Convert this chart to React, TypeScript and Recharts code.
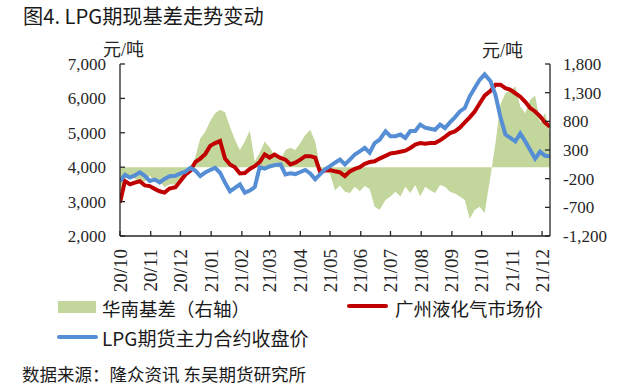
import {
  ComposedChart,
  Area,
  Line,
  XAxis,
  YAxis,
} from 'recharts'

// 横轴：自 2020-10-01 起的天数
const DAYS = [
  0, 5, 10, 15, 20, 25, 30, 35, 40, 45,
  50, 56, 61, 66, 71, 76, 81, 86, 91, 96,
  101, 106, 111, 116, 121, 126, 131, 136, 141, 146,
  151, 156, 162, 167, 172, 177, 182, 187, 192, 197,
  202, 207, 212, 217, 222, 227, 232, 237, 242, 247,
  252, 257, 262, 268, 273, 278, 283, 288, 293, 298,
  303, 308, 313, 318, 323, 328, 333, 338, 343, 348,
  353, 358, 363, 368, 374, 379, 384, 389, 394, 399,
  404, 409, 414, 419, 424, 429, 434,
]

// 广州液化气市场价（左轴）
const SPOT = [
  2970, 3600, 3500, 3550, 3590, 3470, 3450, 3370, 3300, 3260,
  3380, 3420, 3600, 3780, 3900, 4150, 4250, 4380, 4620, 4700,
  4760, 4250, 4080, 4000, 3820, 3830, 3950, 4030, 4150, 4370,
  4280, 4370, 4270, 4220, 4080, 4130, 4220, 4320, 4320, 4280,
  3860, 3900, 3920, 3880, 3850, 3740, 3880, 3950, 4000, 4100,
  4150, 4170, 4250, 4330, 4400, 4420, 4450, 4480, 4560, 4660,
  4700, 4680, 4700, 4700, 4780, 4880, 4990, 5040, 5150, 5300,
  5450, 5620, 5850, 6080, 6220, 6400, 6400, 6300, 6250, 6150,
  6050, 5900, 5720, 5620, 5480, 5300, 5180,
]

// LPG期货主力合约收盘价（左轴）
const FUTURES = [
  3590, 3780, 3700, 3760, 3850, 3750, 3600, 3640, 3560, 3660,
  3740, 3750, 3820, 3870, 3980, 3900, 3740, 3850, 3920, 3980,
  3840, 3550, 3300, 3400, 3500, 3260, 3320, 3420, 4000, 3960,
  4020, 4060, 4080, 3790, 3820, 3800, 3860, 3920, 3820, 3650,
  3800, 3940, 4030, 4130, 4220, 4080, 4220, 4370, 4460, 4560,
  4420, 4700, 4800, 5040, 4900, 4900, 4950, 4850, 5050, 5050,
  5240, 5150, 5120, 5090, 5240, 5140, 5300, 5450, 5620, 5720,
  6060, 6300, 6540, 6700, 6500, 6100, 5450, 4950, 4850, 4750,
  4980, 4750, 4500, 4250, 4450, 4330, 4320,
]

// 华南基差（右轴）
const BASIS = [
  -450, -200, -150, -200, -250, -250, -150, -250, -250, -350,
  -300, -300, -200, -100, -50, 180, 500, 620, 800, 940,
  1000, 960, 700, 480, 300, 450, 640, 100, 250, 450,
  350, 210, 130, 300, 340, 300, 420, 560, 650, 450,
  -20, -70, -120, -400, -320, -430, -450, -340, -420, -330,
  -380, -690, -740, -570, -510, -430, -510, -340, -450, -310,
  -510, -340, -400, -450, -310, -340, -430, -460, -510, -570,
  -900, -740, -690, -800, -150, 420, 1100, 1290, 1330, 1410,
  1060, 940, 1170, 1250, 770, 950, 600,
]

const MONTH_DAYS = [0, 31, 61, 92, 123, 151, 182, 212, 243, 273, 304, 335, 365, 396, 426]
const MONTH_LABELS = [
  '20/10', '20/11', '20/12', '21/01', '21/02', '21/03', '21/04', '21/05',
  '21/06', '21/07', '21/08', '21/09', '21/10', '21/11', '21/12',
]
const LEFT_TICKS = [2000, 3000, 4000, 5000, 6000, 7000]
const RIGHT_TICKS = [-1200, -700, -200, 300, 800, 1300, 1800]

const data = DAYS.map((d, i) => ({
  day: d,
  basis: BASIS[i],
  spot: SPOT[i],
  futures: FUTURES[i],
}))

const GREEN = '#c3d69b'
const RED = '#c00000'
const BLUE = '#558ed5'
const AXIS = '#262626'
const SERIF = '"Liberation Serif", "Noto Sans CJK SC", serif'
const SANS = '"Noto Sans CJK SC", "Noto Sans", sans-serif'

const fmt = (v: number) => String(v).replace(/\B(?=(\d{3})+(?!\d))/g, ',')

function MonthTick({ x, y, payload }: any) {
  const idx = MONTH_DAYS.indexOf(payload.value)
  return (
    <text
      transform={`translate(${x},${y}) rotate(-90)`}
      textAnchor="end"
      dominantBaseline="central"
      fontFamily={SERIF}
      fontSize={19}
      fill={AXIS}
    >
      {MONTH_LABELS[idx]}
    </text>
  )
}

const tickStyle = { fontFamily: SERIF, fontSize: 17, fill: AXIS }

export default function App() {
  return (
    <div style={{ position: 'absolute', left: 0, top: 0, width: 640, height: 389, background: '#fff', color: '#1a1a1a' }}>
      <div style={{ position: 'absolute', left: 23, top: 3, fontFamily: SANS, fontSize: 20.2, lineHeight: '26px', whiteSpace: 'nowrap' }}>
        图4. LPG期现基差走势变动
      </div>
      <div style={{ position: 'absolute', left: 103, top: 38, fontFamily: SERIF, fontSize: 18, lineHeight: '24px', color: AXIS }}>
        元/吨
      </div>
      <div style={{ position: 'absolute', left: 482, top: 39, fontFamily: SERIF, fontSize: 18, lineHeight: '24px', color: AXIS }}>
        元/吨
      </div>

      <ComposedChart
        width={640}
        height={389}
        data={data}
        margin={{ top: 64, right: 0, bottom: 93, left: 0 }}
      >
        <XAxis
          dataKey="day"
          type="number"
          domain={[0, 434]}
          ticks={MONTH_DAYS}
          interval={0}
          height={60}
          tickSize={-5}
          tickMargin={18}
          tick={<MonthTick />}
          axisLine={{ stroke: AXIS, strokeWidth: 1.3 }}
          tickLine={{ stroke: AXIS, strokeWidth: 1.3 }}
          allowDataOverflow
        />
        <YAxis
          yAxisId="left"
          domain={[2000, 7000]}
          ticks={LEFT_TICKS}
          width={120}
          tickSize={-5}
          tickMargin={19}
          tickFormatter={fmt}
          tick={tickStyle}
          axisLine={{ stroke: AXIS, strokeWidth: 1.3 }}
          tickLine={{ stroke: AXIS, strokeWidth: 1.3 }}
        />
        <YAxis
          yAxisId="right"
          orientation="right"
          domain={[-1200, 1800]}
          ticks={RIGHT_TICKS}
          width={90}
          tickSize={-5}
          tickMargin={18}
          tickFormatter={fmt}
          tick={tickStyle}
          axisLine={{ stroke: AXIS, strokeWidth: 1.3 }}
          tickLine={{ stroke: AXIS, strokeWidth: 1.3 }}
        />
        <Area
          yAxisId="right"
          dataKey="basis"
          type="linear"
          baseValue={0}
          fill={GREEN}
          fillOpacity={1}
          stroke="none"
          isAnimationActive={false}
        />
        <Line
          yAxisId="left"
          dataKey="spot"
          type="linear"
          stroke={RED}
          strokeWidth={4}
          dot={false}
          isAnimationActive={false}
        />
        <Line
          yAxisId="left"
          dataKey="futures"
          type="linear"
          stroke={BLUE}
          strokeWidth={4}
          dot={false}
          isAnimationActive={false}
        />
      </ComposedChart>

      {/* 图例 */}
      <div style={{ position: 'absolute', left: 58, top: 301, width: 38, height: 12, background: GREEN }} />
      <div style={{ position: 'absolute', left: 102, top: 295, fontFamily: SANS, fontSize: 18.5, lineHeight: '26px', whiteSpace: 'nowrap' }}>
        华南基差（右轴）
      </div>
      <div style={{ position: 'absolute', left: 347, top: 304, width: 41, height: 4, borderRadius: 2, background: RED }} />
      <div style={{ position: 'absolute', left: 395, top: 295, fontFamily: SANS, fontSize: 18.5, lineHeight: '26px', whiteSpace: 'nowrap' }}>
        广州液化气市场价
      </div>
      <div style={{ position: 'absolute', left: 57, top: 335, width: 41, height: 4, borderRadius: 2, background: BLUE }} />
      <div style={{ position: 'absolute', left: 102, top: 325, fontFamily: SANS, fontSize: 19, lineHeight: '26px', whiteSpace: 'nowrap' }}>
        LPG期货主力合约收盘价
      </div>

      <div style={{ position: 'absolute', left: 22, top: 362, fontFamily: SANS, fontSize: 17.5, lineHeight: '24px', whiteSpace: 'nowrap' }}>
        数据来源：隆众资讯 东吴期货研究所
      </div>
    </div>
  )
}
